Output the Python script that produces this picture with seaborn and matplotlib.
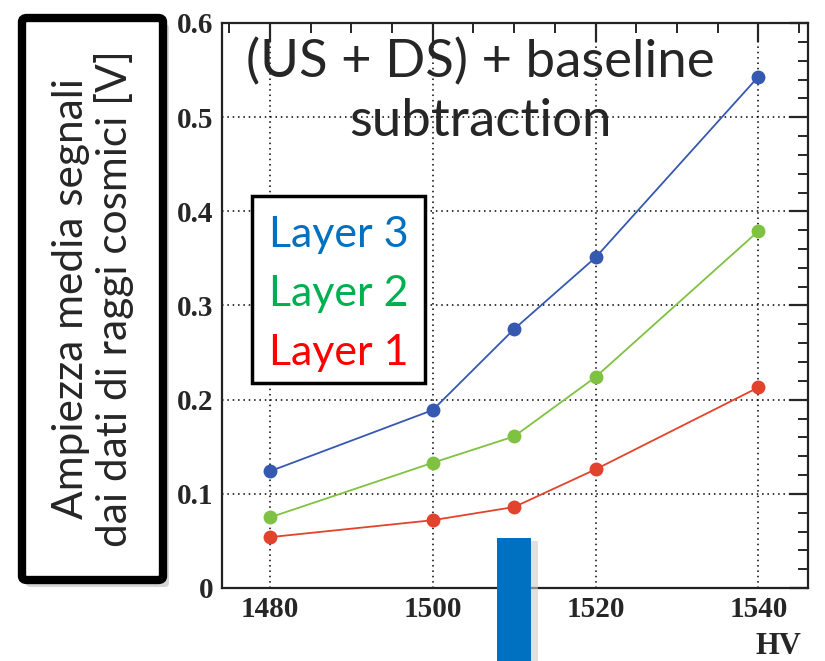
import numpy as np
import pandas as pd
import seaborn as sns
import matplotlib.pyplot as plt
from matplotlib.patches import Rectangle, FancyBboxPatch
from matplotlib.ticker import MultipleLocator

# values
hv = [1480, 1500, 1510, 1520, 1540]
layer1 = [0.054, 0.072, 0.086, 0.126, 0.213]
layer2 = [0.075, 0.133, 0.161, 0.224, 0.379]
layer3 = [0.124, 0.189, 0.275, 0.351, 0.543]
layer_names = ["Layer 3", "Layer 2", "Layer 1"]
line_colors = ["#3558b0", "#7fc242", "#e2432c"]
text_colors = ["#0070c0", "#00b050", "#ff0000"]

df = pd.DataFrame({
    "HV": hv * 3,
    "amp": layer3 + layer2 + layer1,
    "layer": ["Layer 3"] * 5 + ["Layer 2"] * 5 + ["Layer 1"] * 5,
})

sns.set_style("white")
plt.rcParams["font.family"] = ["Lato", "DejaVu Sans"]

W, H = 825, 661
fig = plt.figure(figsize=(W / 100, H / 100), dpi=100)
ax = fig.add_axes([222 / W, 1 - 588 / H, (808 - 222) / W, (588 - 23) / H])

sns.lineplot(data=df, x="HV", y="amp", hue="layer", hue_order=layer_names,
             palette=line_colors, marker="o", markersize=10, markeredgewidth=0,
             linewidth=1.3, ax=ax, legend=False)

ax.set_xlim(1474.1, 1546.1)
ax.set_ylim(0, 0.6)
ax.xaxis.set_major_locator(MultipleLocator(20))
ax.xaxis.set_minor_locator(MultipleLocator(5))
ax.yaxis.set_major_locator(MultipleLocator(0.1))
ax.yaxis.set_minor_locator(MultipleLocator(0.02))
ax.set_yticks(np.arange(0, 0.61, 0.1))
ax.set_yticklabels(["0", "0.1", "0.2", "0.3", "0.4", "0.5", "0.6"])
ax.grid(True, which="major", color="black", linestyle=(0, (1, 2.5)), linewidth=1.1)
ax.tick_params(which="major", direction="in", top=True, right=True, length=14, width=1.6, pad=6)
ax.tick_params(which="minor", direction="in", top=True, right=True, length=7, width=1.4)
for s in ax.spines.values():
    s.set_linewidth(1.6)
    s.set_color("#222222")
for lab in ax.get_xticklabels() + ax.get_yticklabels():
    lab.set_fontfamily("Liberation Serif")
    lab.set_fontweight("bold")
    lab.set_fontsize(21)
ax.set_xlabel("")
ax.set_ylabel("")
fig.text(801 / W, 1 - 647 / H, "HV", family="Liberation Serif", weight="bold",
         fontsize=22, ha="right", va="center")

# title text inside the frame
fig.text(480 / W, 1 - 62 / H, "(US + DS) + baseline", fontsize=38, ha="center", va="center")
fig.text(480 / W, 1 - 122 / H, "subtraction", fontsize=38, ha="center", va="center")

# legend box with coloured text
ax.add_patch(Rectangle((252 / W, 1 - 383 / H), (425 - 252) / W, (383 - 196) / H,
                       transform=fig.transFigure, facecolor="white", edgecolor="black",
                       linewidth=2.5, zorder=5))
for i, (name, c) in enumerate(zip(layer_names, text_colors)):
    fig.text(339 / W, 1 - (235 + i * 59) / H, name, color=c, fontsize=31,
             ha="center", va="center", zorder=6)

# y label box with shadow
fig.patches.append(FancyBboxPatch((26 / W, 1 - 587 / H), 143 / W, 563 / H,
                                  boxstyle="round,pad=0,rounding_size=0.006",
                                  transform=fig.transFigure, facecolor="#bbbbbb",
                                  edgecolor="none", alpha=0.6, zorder=1))
fig.patches.append(FancyBboxPatch((22 / W, 1 - 580 / H), 141 / W, 562 / H,
                                  boxstyle="round,pad=0,rounding_size=0.006",
                                  transform=fig.transFigure, facecolor="white",
                                  edgecolor="black", linewidth=6, zorder=2))
fig.text(93 / W, 1 - 299 / H, "Ampiezza media segnali\ndai dati di raggi cosmici [V]",
         rotation=90, fontsize=30.5, ha="center", va="center", linespacing=1.1, zorder=3)

# blue marker bar at the bottom
fig.patches.append(Rectangle((531 / W, 0), 7 / W, (661 - 541) / H, transform=fig.transFigure,
                             facecolor="#cccccc", edgecolor="none", alpha=0.6, zorder=3))
fig.patches.append(Rectangle((497 / W, 0), 34 / W, (661 - 538) / H, transform=fig.transFigure,
                             facecolor="#0070c0", edgecolor="none", zorder=4))

fig.savefig("out.png", dpi=100)
